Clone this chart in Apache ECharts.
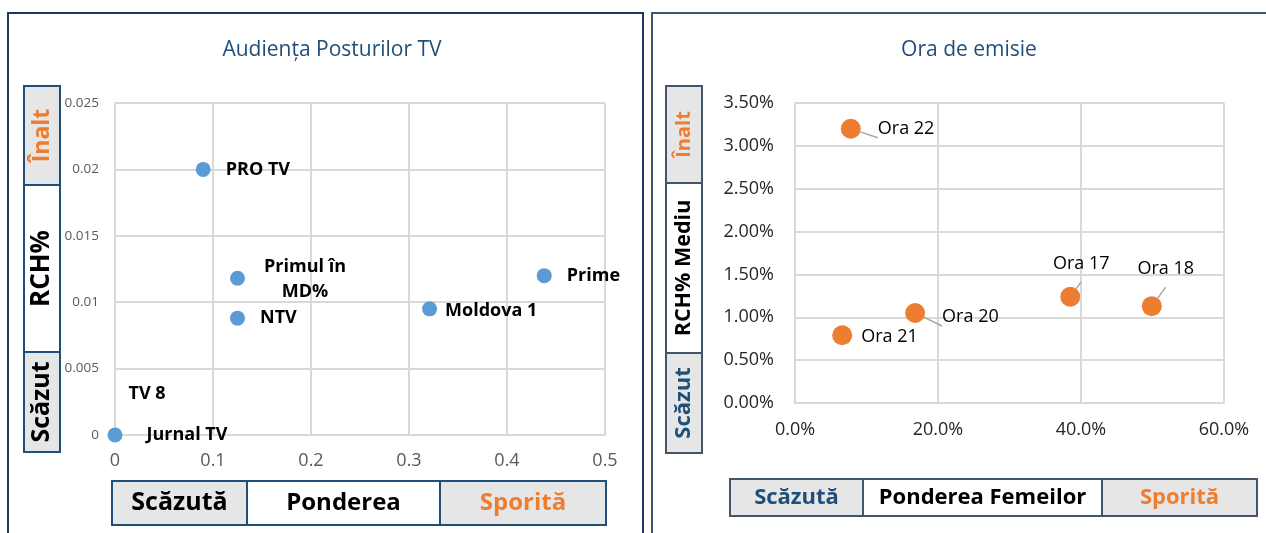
<!DOCTYPE html>
<html>
<head>
<meta charset="utf-8">
<script src="https://cdn.jsdelivr.net/npm/echarts@6/dist/echarts.min.js"></script>
<style>
  html, body { margin: 0; padding: 0; background: #fff; }
  #chart { width: 1266px; height: 533px; }
</style>
</head>
<body>
<div id="chart"></div>
<script>
// left chart: audienta posturilor TV (x = ponderea, y = RCH%)
const channelNames = ['PRO TV', 'Primul în\nMD%', 'NTV', 'Moldova 1', 'Prime', 'Jurnal TV', 'TV 8'];
const channelShare = [0.09, 0.125, 0.125, 0.321, 0.438, 0, 0];
const channelReach = [0.020, 0.0118, 0.0088, 0.0095, 0.012, 0, 0];

// right chart: ora de emisie (x = ponderea femeilor, y = RCH% mediu)
const hourNames = ['Ora 22', 'Ora 21', 'Ora 20', 'Ora 17', 'Ora 18'];
const hourWomen = [0.078, 0.066, 0.168, 0.385, 0.499];
const hourReach = [0.032, 0.0079, 0.0105, 0.0124, 0.0113];

const FONT = '"Open Sans", "Noto Sans", sans-serif';
const GRID_COLOR = '#D9D9D9';

const chart = echarts.init(document.getElementById('chart'));

// per label tweaks (offsets only)
const channelLabel = {
  'Primul în\nMD%': { position: [75, 9], align: 'center', verticalAlign: 'middle', lineHeight: 25 },
  'Moldova 1': { distance: 8, offset: [0, 2] },
  'Jurnal TV': { distance: 24 },
  'TV 8': { distance: 6, offset: [0, -41] },
};
const hourLabel = {
  'Ora 21': { position: 'right', distance: 9, offset: [0, 2] },
  'Ora 20': { position: 'right', distance: 17, offset: [0, 4] },
  'Ora 17': { position: 'top', distance: 6, offset: [11, -8] },
  'Ora 18': { position: 'top', distance: 6, offset: [14, -12] },
};

function sideBox(x, y, w, h, fill, stroke, text, color, size, rotate) {
  return {
    type: 'group',
    children: [
      { type: 'rect', shape: { x, y, width: w, height: h }, style: { fill, stroke, lineWidth: 2 } },
      {
        type: 'text',
        x: x + w / 2,
        y: y + h / 2,
        rotation: rotate ? Math.PI / 2 : 0,
        style: {
          text, fill: color, font: `bold ${size}px ${FONT}`,
          textAlign: 'center', textVerticalAlign: 'middle',
        },
      },
    ],
  };
}

const option = {
  animation: false,
  title: [
    {
      text: 'Audiența Posturilor TV', left: 327, top: 35, textAlign: 'center',
      textStyle: { color: '#1F4E79', fontSize: 21, fontWeight: 'normal', fontFamily: FONT },
    },
    {
      text: 'Ora de emisie', left: 964, top: 35, textAlign: 'center',
      textStyle: { color: '#1F4E79', fontSize: 21, fontWeight: 'normal', fontFamily: FONT },
    },
  ],
  grid: [
    { left: 115, top: 103, width: 490, height: 332 },
    { left: 795, top: 103, width: 429, height: 300 },
  ],
  xAxis: [
    {
      gridIndex: 0, type: 'value', min: 0, max: 0.5, interval: 0.1,
      axisLine: { lineStyle: { color: GRID_COLOR, width: 2 } },
      axisTick: { show: false },
      splitLine: { lineStyle: { color: GRID_COLOR, width: 2 } },
      axisLabel: { color: '#595959', fontSize: 18, fontFamily: FONT, margin: 17,
        formatter: v => String(+v.toFixed(1)) },
    },
    {
      gridIndex: 1, type: 'value', min: 0, max: 0.6, interval: 0.2,
      axisLine: { lineStyle: { color: GRID_COLOR, width: 2 } },
      axisTick: { show: false },
      splitLine: { lineStyle: { color: GRID_COLOR, width: 2 } },
      axisLabel: { color: '#262626', fontSize: 18, fontFamily: FONT, margin: 18,
        formatter: v => (v * 100).toFixed(1) + '%' },
    },
  ],
  yAxis: [
    {
      gridIndex: 0, type: 'value', min: 0, max: 0.025, interval: 0.005,
      axisLine: { show: true, lineStyle: { color: GRID_COLOR, width: 2 } },
      axisTick: { show: false },
      splitLine: { lineStyle: { color: GRID_COLOR, width: 2 } },
      axisLabel: { color: '#595959', fontSize: 13.5, fontFamily: FONT, margin: 16,
        formatter: v => String(+v.toFixed(3)) },
    },
    {
      gridIndex: 1, type: 'value', min: 0, max: 0.035, interval: 0.005,
      axisLine: { show: true, lineStyle: { color: GRID_COLOR, width: 2 } },
      axisTick: { show: false },
      splitLine: { lineStyle: { color: GRID_COLOR, width: 2 } },
      axisLabel: { color: '#262626', fontSize: 18, fontFamily: FONT, margin: 21,
        formatter: v => (v * 100).toFixed(2) + '%' },
    },
  ],
  series: [
    {
      type: 'scatter',
      xAxisIndex: 0,
      yAxisIndex: 0,
      symbolSize: 15,
      itemStyle: { color: '#5B9BD5', opacity: 1 },
      label: {
        show: true, position: 'right', distance: 15,
        color: '#000', fontSize: 18, fontWeight: 'bold', fontFamily: FONT,
        formatter: p => p.name,
      },
      data: channelNames.map((name, i) => ({
        name,
        value: [channelShare[i], channelReach[i]],
        label: channelLabel[name] || {},
        itemStyle: name === 'TV 8' ? { color: 'rgba(0,0,0,0)' } : {},
      })),
      z: 3,
    },
    {
      type: 'scatter',
      xAxisIndex: 1,
      yAxisIndex: 1,
      symbolSize: 20,
      itemStyle: { color: '#ED7D31', opacity: 1 },
      label: {
        show: true, position: 'right', distance: 17,
        color: '#000', fontSize: 18, fontFamily: FONT,
        formatter: p => p.name,
      },
      labelLine: { show: true, lineStyle: { color: '#A6A6A6', width: 1.5 } },
      data: hourNames.map((name, i) => ({
        name,
        value: [hourWomen[i], hourReach[i]],
        label: hourLabel[name] || {},
        labelLine: name === 'Ora 21' ? { show: false } : {},
      })),
    },
  ],
  graphic: [
    // panel frames
    { type: 'rect', shape: { x: 8, y: 13, width: 635, height: 540 }, style: { fill: 'none', stroke: '#1F3864', lineWidth: 2 } },
    { type: 'rect', shape: { x: 652, y: 13, width: 630, height: 540 }, style: { fill: 'none', stroke: '#44546A', lineWidth: 2 } },
    // left chart side boxes
    sideBox(24, 86, 36, 99, '#E7E6E6', '#1F4E79', 'Înalt', '#ED7D31', 23, true),
    sideBox(24, 185, 36, 167, '#FFFFFF', '#1F4E79', 'RCH%', '#000000', 26, true),
    sideBox(24, 352, 36, 100, '#E7E6E6', '#1F4E79', 'Scăzut', '#000000', 25, true),
    sideBox(112, 481, 135, 44, '#E7E6E6', '#1F4E79', 'Scăzută', '#000000', 25, false),
    sideBox(247, 481, 193, 44, '#FFFFFF', '#1F4E79', 'Ponderea', '#000000', 24, false),
    sideBox(440, 481, 166, 44, '#E7E6E6', '#1F4E79', 'Sporită', '#ED7D31', 24, false),
    // right chart side boxes
    sideBox(666, 86, 36, 97, '#E7E6E6', '#44546A', 'Înalt', '#ED7D31', 20, true),
    sideBox(666, 183, 36, 170, '#FFFFFF', '#44546A', 'RCH% Mediu', '#000000', 21.5, true),
    sideBox(666, 353, 36, 100, '#E7E6E6', '#44546A', 'Scăzut', '#1F4E79', 22, true),
    sideBox(730, 479, 133, 37, '#E7E6E6', '#44546A', 'Scăzută', '#1F4E79', 22, false),
    sideBox(863, 479, 239, 37, '#FFFFFF', '#44546A', 'Ponderea Femeilor', '#000000', 22, false),
    sideBox(1102, 479, 155, 37, '#E7E6E6', '#44546A', 'Sporită', '#ED7D31', 22, false),
  ],
};

chart.setOption(option);
</script>
</body>
</html>
